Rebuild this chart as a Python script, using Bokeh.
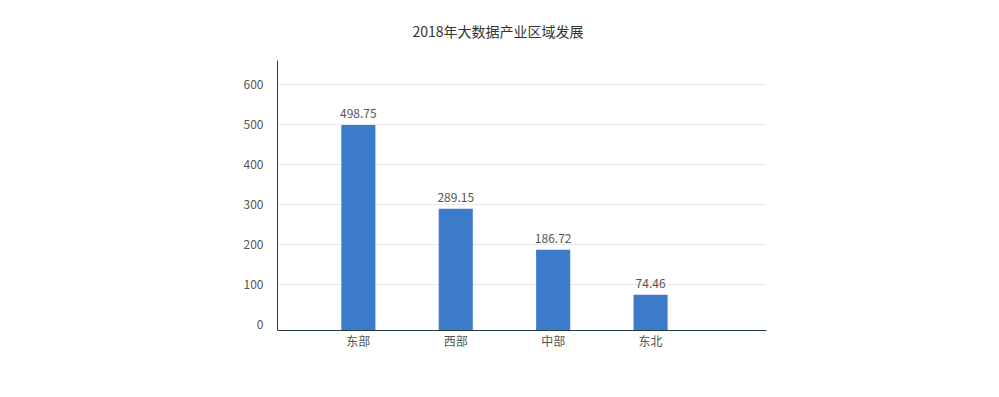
from bokeh.plotting import figure
from bokeh.models import ColumnDataSource, Range1d, FixedTicker, LabelSet
from bokeh.core.properties import value
from bokeh.embed import file_html
from bokeh.resources import INLINE

title_text = "2018年大数据产业区域发展"
categories = ["东部", "西部", "中部", "东北"]
values = [498.75, 289.15, 186.72, 74.46]
y_ticks = [0, 100, 200, 300, 400, 500, 600]

FONT = "Noto Sans CJK SC"
y_floor = -15

xs = list(range(len(categories)))
src = ColumnDataSource(dict(
    x=xs, top=values, label=[f"{v:.2f}" for v in values],
    bottom=[y_floor] * len(values)))

p = figure(width=983, height=381, output_backend="svg", toolbar_location=None,
           x_range=Range1d(-0.83, len(categories) - 1 + 1.19),
           y_range=Range1d(y_floor, 660),
           min_border_left=277, min_border_right=217,
           min_border_top=60, min_border_bottom=51)

p.title.text = title_text
p.title.align = "left"
p.title.offset = 135
p.title.text_font = FONT
p.title.text_font_size = "14px"
p.title.text_font_style = "normal"
p.title.text_color = "#333333"
p.title.standoff = 35
p.title.vertical_align = "top"

p.outline_line_color = None
p.background_fill_color = "white"

p.vbar(x="x", top="top", bottom="bottom", width=0.35, source=src,
       fill_color="#3b7bca", line_color=None)

labels = LabelSet(x="x", y="top", text="label", source=src,
                  text_align="center", text_baseline="bottom", y_offset=7,
                  text_font=value(FONT), text_font_size="12px", text_color="#555555")
p.add_layout(labels)

# y axis
p.yaxis.ticker = FixedTicker(ticks=y_ticks)
p.yaxis.major_tick_line_color = None
p.yaxis.major_tick_out = 0
p.yaxis.major_tick_in = 0
p.yaxis.minor_tick_line_color = None
p.yaxis.axis_line_color = "#233d4a"
p.yaxis.axis_line_width = 1
p.yaxis.major_label_text_font = FONT
p.yaxis.major_label_text_font_size = "12px"
p.yaxis.major_label_text_color = "#555555"
p.yaxis.major_label_standoff = 14

# x axis
p.xaxis.ticker = FixedTicker(ticks=xs)
p.xaxis.major_label_overrides = {i: c for i, c in zip(xs, categories)}
p.xaxis.major_tick_line_color = None
p.xaxis.major_tick_out = 0
p.xaxis.major_tick_in = 0
p.xaxis.minor_tick_line_color = None
p.xaxis.axis_line_color = "#233d4a"
p.xaxis.axis_line_width = 1
p.xaxis.major_label_text_font = FONT
p.xaxis.major_label_text_font_size = "12px"
p.xaxis.major_label_text_color = "#555555"
p.xaxis.major_label_standoff = 1

p.xgrid.grid_line_color = None
p.ygrid.ticker = FixedTicker(ticks=y_ticks[1:])
p.ygrid.grid_line_color = "#e8e8e8"

open("out.html", "w").write(file_html(p, INLINE))
